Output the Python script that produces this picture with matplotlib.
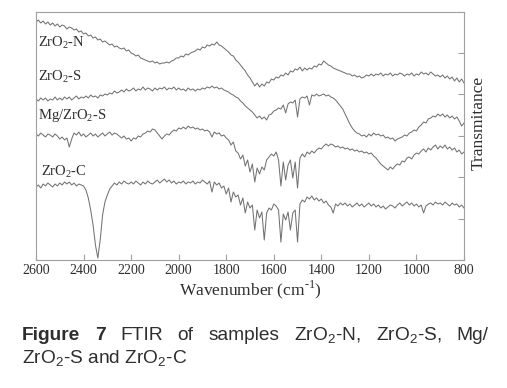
import numpy as np
import matplotlib
matplotlib.use("Agg")
import matplotlib.pyplot as plt

plt.rcParams["mathtext.fontset"] = "custom"
plt.rcParams["mathtext.rm"] = "Liberation Serif"

# wavenumber grid (cm-1), one reading every 10 cm-1
wavenumber = np.arange(2600, 799, -10)

# readings (arbitrary transmittance units, offset traces)
zro2_n = [
    238, 240, 237, 239, 236, 238, 235, 237, 234, 236,
    233, 235, 234, 231, 233, 232, 230, 231, 228, 229,
    226, 227, 224, 225, 222, 223, 220, 221, 218, 219,
    217, 215, 216, 213, 214, 212, 211, 212, 209, 210,
    207, 206, 204, 205, 202, 201, 200, 199, 198, 199,
    197, 198, 196, 197, 197, 198, 197, 199, 200, 202,
    202, 204, 203, 206, 205, 207, 208, 209, 211, 210,
    213, 212, 215, 214, 216, 215, 218, 215, 214, 212,
    210, 208, 205, 204, 200, 198, 195, 192, 189, 185,
    182, 178, 174, 177, 173, 176, 174, 178, 177, 181,
    180, 183, 182, 185, 184, 187, 185, 189, 188, 191,
    190, 193, 189, 192, 190, 192, 191, 194, 193, 196,
    195, 199, 197, 195, 194, 192, 191, 190, 189, 188,
    187, 186, 186, 184, 185, 183, 184, 182, 183, 185,
    184, 186, 184, 186, 185, 187, 184, 186, 185, 187,
    184, 186, 185, 187, 186, 184, 186, 185, 187, 184,
    186, 185, 188, 186, 187, 185, 188, 186, 184, 185,
    183, 185, 182, 184, 181, 183, 179, 182, 178, 181, 177,
]
zro2_s = [
    161, 159, 162, 160, 162, 159, 161, 160, 163, 160,
    162, 160, 163, 161, 163, 160, 162, 164, 161, 163,
    162, 164, 162, 165, 163, 164, 162, 165, 164, 166,
    165, 167, 166, 169, 167, 168, 170, 168, 171, 169,
    170, 172, 169, 171, 170, 173, 170, 172, 171, 169,
    172, 170, 172, 171, 173, 170, 172, 171, 173, 170,
    172, 170, 171, 169, 172, 170, 171, 169, 171, 170,
    172, 171, 173, 172, 174, 172, 173, 171, 172, 170,
    169, 168, 166, 165, 163, 162, 159, 157, 154, 152,
    150, 148, 145, 142, 144, 141, 143, 140, 145, 146,
    149, 150, 152, 151, 155, 147, 156, 158, 157, 160,
    143, 161, 163, 162, 164, 155, 165, 164, 166, 164,
    165, 166, 164, 165, 163, 162, 160, 157, 154, 151,
    146, 141, 136, 132, 129, 127, 126, 124, 125, 123,
    126, 124, 127, 125, 126, 124, 125, 122, 123, 121,
    122, 119, 121, 122, 123, 125, 124, 127, 128, 130,
    129, 133, 135, 138, 137, 141, 142, 144, 143, 146,
    144, 146, 143, 145, 142, 144, 141, 143, 139, 134, 137,
]
mg_zro2_s = [
    126, 124, 127, 125, 123, 126, 125, 123, 126, 124,
    121, 123, 120, 122, 113, 121, 127, 125, 128, 124,
    126, 123, 125, 127, 124, 126, 123, 125, 127, 124,
    126, 128, 125, 127, 126, 124, 122, 124, 121, 122,
    119, 122, 121, 124, 123, 126, 127, 129, 128, 131,
    130, 127, 124, 121, 124, 126, 125, 128, 130, 129,
    132, 131, 133, 131, 134, 132, 133, 131, 132, 130,
    131, 129, 130, 128, 123, 128, 126, 127, 124, 125,
    122, 120, 115, 118, 109, 107, 101, 105, 94, 100,
    88, 96, 78, 92, 86, 93, 90, 100, 103, 106,
    104, 108, 100, 74, 98, 80, 95, 100, 82, 98,
    72, 102, 106, 103, 108, 106, 109, 107, 110, 112,
    111, 114, 116, 114, 116, 115, 113, 114, 112, 113,
    111, 112, 110, 111, 109, 110, 108, 109, 107, 108,
    106, 107, 104, 102, 99, 96, 94, 92, 90, 93,
    91, 94, 96, 95, 99, 98, 102, 103, 101, 105,
    107, 106, 109, 111, 108, 112, 110, 113, 115, 111,
    114, 112, 115, 111, 113, 110, 112, 108, 110, 106, 108,
]
zro2_c = [
    73, 75, 72, 76, 74, 77, 75, 73, 76, 74,
    77, 75, 78, 76, 78, 75, 77, 74, 76, 75,
    74, 70, 62, 50, 35, 15, 2, 20, 45, 58,
    65, 71, 74, 77, 75, 78, 76, 79, 77, 76,
    78, 76, 79, 77, 75, 78, 76, 79, 77, 76,
    78, 80, 77, 79, 81, 78, 80, 77, 79, 76,
    78, 77, 79, 76, 78, 77, 79, 76, 78, 77,
    80, 78, 76, 79, 68, 78, 75, 77, 72, 74,
    66, 72, 58, 68, 63, 65, 55, 62, 47, 58,
    52, 55, 30, 50, 42, 48, 20, 47, 52, 50,
    56, 54, 50, 18, 46, 40, 48, 30, 47, 50,
    18, 56, 60, 58, 63, 61, 64, 60, 62, 59,
    61, 57, 59, 55, 53, 47, 56, 54, 57, 55,
    57, 54, 56, 53, 55, 57, 54, 56, 53, 55,
    57, 54, 56, 53, 55, 52, 54, 51, 53, 55,
    54, 52, 55, 57, 54, 56, 58, 55, 57, 54,
    56, 53, 55, 47, 54, 56, 57, 55, 58, 56,
    57, 55, 58, 56, 54, 57, 55, 56, 53, 55, 52,
]

series = [zro2_n, zro2_s, mg_zro2_s, zro2_c]
names = [r"ZrO$\mathregular{_2}$-N", r"ZrO$\mathregular{_2}$-S",
         r"Mg/ZrO$\mathregular{_2}$-S", r"ZrO$\mathregular{_2}$-C"]
label_pos = [(2592, 217), (2592, 183), (2592, 145), (2580, 88)]

serif = ["Liberation Serif", "DejaVu Serif"]
sans = ["Liberation Sans", "DejaVu Sans"]
txt = "#2e2e2e"
frame = "#a0a0a0"

fig = plt.figure(figsize=(5.07, 3.88), dpi=100)
ax = fig.add_axes([36 / 507, 1 - 260 / 388, 428 / 507, 248.5 / 388])

for y in series:
    ax.plot(wavenumber, y, color="#727272", lw=0.75)

for name, (x, y) in zip(names, label_pos):
    ax.text(x, y, name, family=serif, fontsize=10.5, color=txt,
            ha="left", va="center")

ax.set_xlim(2600, 800)
ax.set_ylim(0, 248.5)
ax.set_xticks(np.arange(2600, 799, -200))
ax.set_yticks(np.linspace(0, 248.5, 7))
ax.tick_params(axis="x", direction="in", length=4, color=frame,
               labelsize=10, labelcolor=txt, pad=3)
ax.tick_params(axis="y", direction="in", length=4, color=frame,
               left=False, right=True, labelleft=False, labelright=False)
for lab in ax.get_xticklabels():
    lab.set_family(serif)
for s in ax.spines.values():
    s.set_color(frame)
    s.set_linewidth(0.8)

ax.set_xlabel(r"Wavenumber (cm$^{\text{-1}}$)", family=serif,
              fontsize=12.5, color=txt, labelpad=1)
fig.text(479 / 507, 1 - 123 / 388, "Transmitance", family=serif,
         fontsize=12.5, color=txt, rotation=90, ha="center", va="center")

# caption, first line justified between two edges
renderer = fig.canvas.get_renderer()
words = ["Figure", "7", "FTIR", "of", "samples", r"ZrO$\mathregular{_2}$-N,",
         r"ZrO$\mathregular{_2}$-S,", "Mg/"]
x0, x1, yc = 22 / 507, 488 / 507, 1 - 335 / 388
items = []
for i, w in enumerate(words):
    t = fig.text(0, yc, w, family=sans, fontsize=13.8, color=txt,
                 fontweight="bold" if i < 2 else "normal", va="center")
    items.append(t)
widths = [t.get_window_extent(renderer).width / fig.bbox.width for t in items]
gap = (x1 - x0 - sum(widths)) / (len(words) - 1)
x = x0
for t, w in zip(items, widths):
    t.set_x(x)
    x += w + gap
fig.text(x0, 1 - 358 / 388, r"ZrO$\mathregular{_2}$-S and ZrO$\mathregular{_2}$-C",
         family=sans, fontsize=13.8, color=txt, va="center")

fig.savefig("out.png", dpi=100)
